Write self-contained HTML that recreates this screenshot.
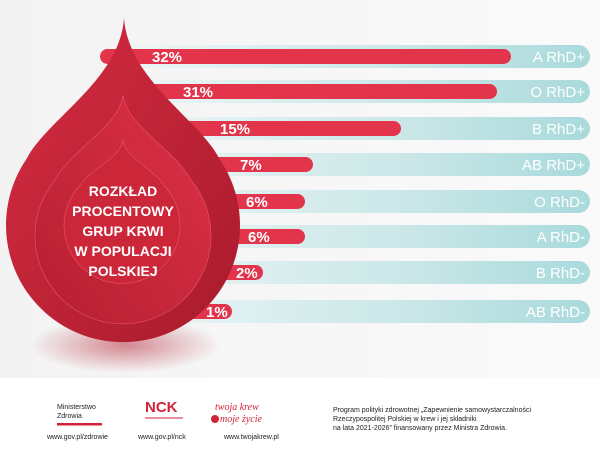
<!DOCTYPE html>
<html><head><meta charset="utf-8"><style>
html,body{margin:0;padding:0;width:600px;height:450px;overflow:hidden;background:#fff;font-family:"Liberation Sans",sans-serif}
</style></head><body>
<svg width="600" height="450" viewBox="0 0 600 450" xmlns="http://www.w3.org/2000/svg">
<defs>
<linearGradient id="bg" x1="0" y1="0" x2="1" y2="0"><stop offset="0" stop-color="#f3f3f3"/><stop offset="1" stop-color="#fafafa"/></linearGradient>
<linearGradient id="teal" x1="0" y1="0" x2="1" y2="0"><stop offset="0" stop-color="#eef6f6"/><stop offset="0.6" stop-color="#cbe7e8"/><stop offset="1" stop-color="#a9dadc"/></linearGradient>
<linearGradient id="d1" x1="0" y1="0" x2="1" y2="1"><stop offset="0" stop-color="#d62c42"/><stop offset="1" stop-color="#a81b2b"/></linearGradient>
<linearGradient id="d2" x1="1" y1="0" x2="0" y2="1"><stop offset="0" stop-color="#df3148"/><stop offset="1" stop-color="#b41f30"/></linearGradient>
<radialGradient id="sh" cx="0.5" cy="0.5" r="0.5"><stop offset="0" stop-color="#b01c2c" stop-opacity="0.5"/><stop offset="1" stop-color="#b01c2c" stop-opacity="0"/></radialGradient>
</defs>
<rect x="0" y="0" width="600" height="378" fill="url(#bg)"/>
<ellipse cx="125" cy="345" rx="95" ry="28" fill="url(#sh)"/>
<g font-weight="bold" font-size="15" fill="#fff">
<rect x="120" y="45" width="470" height="23" rx="11.5" fill="url(#teal)"/><rect x="100" y="49" width="411" height="15" rx="7.5" fill="#e2344b"/>
<text x="152" y="62">32%</text><text x="585" y="62" text-anchor="end" font-weight="normal">A RhD+</text>
<rect x="120" y="80" width="470" height="23" rx="11.5" fill="url(#teal)"/><rect x="100" y="84" width="397" height="15" rx="7.5" fill="#e2344b"/>
<text x="183" y="97">31%</text><text x="585" y="97" text-anchor="end" font-weight="normal">O RhD+</text>
<rect x="120" y="117" width="470" height="23" rx="11.5" fill="url(#teal)"/><rect x="100" y="121" width="301" height="15" rx="7.5" fill="#e2344b"/>
<text x="220" y="134">15%</text><text x="585" y="134" text-anchor="end" font-weight="normal">B RhD+</text>
<rect x="120" y="153" width="470" height="23" rx="11.5" fill="url(#teal)"/><rect x="100" y="157" width="213" height="15" rx="7.5" fill="#e2344b"/>
<text x="240" y="170">7%</text><text x="585" y="170" text-anchor="end" font-weight="normal">AB RhD+</text>
<rect x="120" y="190" width="470" height="23" rx="11.5" fill="url(#teal)"/><rect x="100" y="194" width="205" height="15" rx="7.5" fill="#e2344b"/>
<text x="246" y="207">6%</text><text x="585" y="207" text-anchor="end" font-weight="normal">O RhD-</text>
<rect x="120" y="225" width="470" height="23" rx="11.5" fill="url(#teal)"/><rect x="100" y="229" width="205" height="15" rx="7.5" fill="#e2344b"/>
<text x="248" y="242">6%</text><text x="585" y="242" text-anchor="end" font-weight="normal">A RhD-</text>
<rect x="120" y="261" width="470" height="23" rx="11.5" fill="url(#teal)"/><rect x="100" y="265" width="163" height="15" rx="7.5" fill="#e2344b"/>
<text x="236" y="278">2%</text><text x="585" y="278" text-anchor="end" font-weight="normal">B RhD-</text>
<rect x="120" y="300" width="470" height="23" rx="11.5" fill="url(#teal)"/><rect x="100" y="304" width="132" height="15" rx="7.5" fill="#e2344b"/>
<text x="206" y="317">1%</text><text x="585" y="317" text-anchor="end" font-weight="normal">AB RhD-</text>
</g>
<path d="M124,18 C128,80 200,120 219.5,159 A117,117 0 1 1 26.5,159 C46,120 120,80 124,18 Z" fill="url(#d1)"/>
<path d="M123,95 C126,125 175,150 191,180 A88,88 0 1 1 55,180 C71,150 120,125 123,95 Z" fill="url(#d2)" stroke="#e85566" stroke-width="0.6"/>
<path d="M123,140 C125,158 155,170 164,185.5 A58,58 0 1 1 80,185.5 C89,170 121,158 123,140 Z" fill="#cc2639" stroke="#e85566" stroke-width="0.6"/>
<g font-size="14" fill="#fff" text-anchor="middle" font-weight="bold">
<text x="123" y="196">ROZKŁAD</text><text x="123" y="216">PROCENTOWY</text><text x="123" y="236">GRUP KRWI</text><text x="123" y="256">W POPULACJI</text><text x="123" y="276">POLSKIEJ</text>
</g>
<g font-size="7" fill="#222">
<text x="57" y="409">Ministerstwo</text><text x="57" y="418">Zdrowia</text>
<rect x="57" y="423" width="45" height="2.5" fill="#d2233a"/>
<text x="47" y="439">www.gov.pl/zdrowie</text>
<text x="145" y="412" font-size="15" font-weight="bold" fill="#d2233a">NCK</text>
<rect x="145" y="417" width="38" height="2" fill="#d2233a" opacity="0.5"/>
<text x="138" y="439">www.gov.pl/nck</text>
<text x="215" y="410" font-size="10" fill="#d2233a" font-style="italic" font-family="Liberation Serif,serif">twoja krew</text>
<text x="220" y="422" font-size="10" fill="#d2233a" font-style="italic" font-family="Liberation Serif,serif">moje życie</text>
<circle cx="215" cy="419" r="4" fill="#d2233a"/>
<text x="224" y="439">www.twojakrew.pl</text>
<text x="333" y="412">Program polityki zdrowotnej „Zapewnienie samowystarczalności</text>
<text x="333" y="421">Rzeczypospolitej Polskiej w krew i jej składniki</text>
<text x="333" y="430">na lata 2021-2026” finansowany przez Ministra Zdrowia.</text>
</g>
</svg>
</body></html>
